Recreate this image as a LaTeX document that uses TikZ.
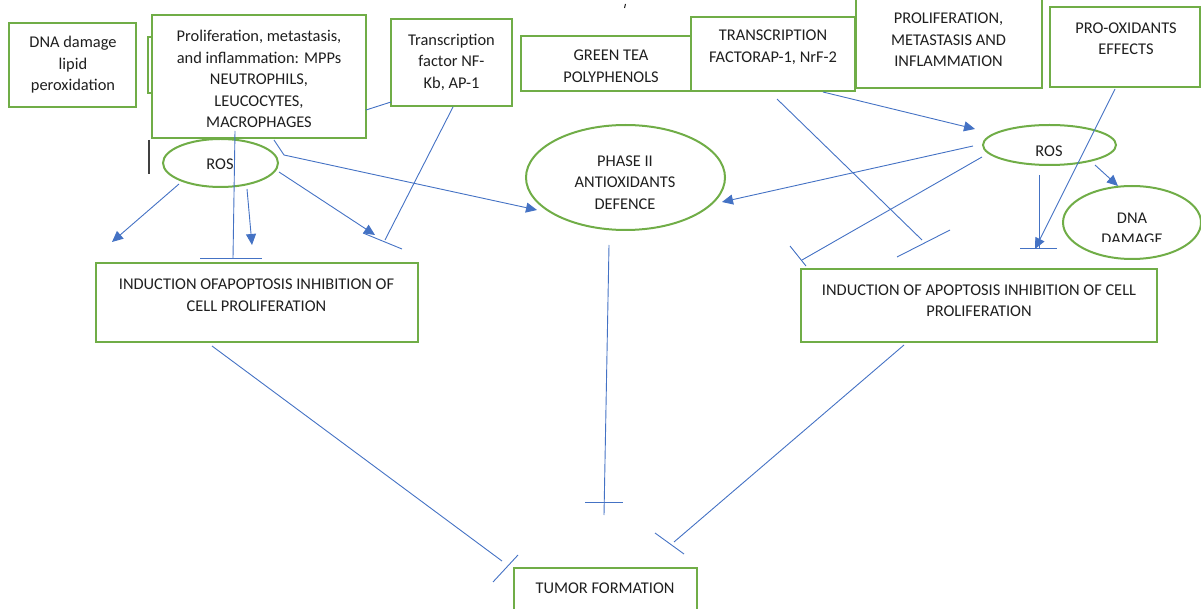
\documentclass[tikz,border=0pt]{standalone}
\usepackage{fontspec}
\setmainfont{Carlito}
\usetikzlibrary{arrows.meta,shapes.geometric}
\definecolor{grn}{HTML}{70AD47}
\definecolor{blu}{HTML}{4472C4}
\definecolor{txtc}{HTML}{1F1F1F}
\begin{document}
\begin{tikzpicture}[x=1pt,y=-1pt,
  gbox/.style={draw=grn,line width=2pt,fill=white,inner sep=0pt,rectangle},
  gell/.style={draw=grn,line width=2pt,inner sep=0pt,ellipse},
  txt/.style={font=\fontsize{16.4}{21.5}\selectfont,text=txtc,align=center,inner sep=0pt},
  conn/.style={draw=blu,line width=0.9pt},
  arr/.style={conn,-{Triangle[length=11pt,width=10pt]}},
  tbar/.style={draw=blu,line width=0.9pt}]
\useasboundingbox (0,0) rectangle (1201,609);
\clip (0,0) rectangle (1201,609);

% boxes
\node[gbox,minimum width=62pt,minimum height=56pt] (hid) at (179,65) {};
\node[gbox,minimum width=127pt,minimum height=84pt] (dna) at (72.5,65) {};
\node[gbox,minimum width=214pt,minimum height=123pt] (prolL) at (259,76.5) {};
\node[gbox,minimum width=121pt,minimum height=87pt] (nfkb) at (451.5,62.5) {};
\node[gbox,minimum width=179pt,minimum height=55pt] (gtea) at (610.5,63.5) {};
\node[gbox,minimum width=164pt,minimum height=74pt] (ap1) at (773,54) {};
\node[gbox,minimum width=186pt,minimum height=98pt] (prolR) at (949,39) {};
\node[gbox,minimum width=150pt,minimum height=80pt] (prox) at (1125,47) {};
\node[gbox,minimum width=322pt,minimum height=79pt] (indL) at (257,302.5) {};
\node[gbox,minimum width=356pt,minimum height=73pt] (indR) at (979,305.5) {};
\node[gbox,minimum width=183pt,minimum height=62pt] (tumor) at (605.5,599) {};

% ellipses
\node[gell,minimum width=115pt,minimum height=48pt] (rosL) at (220.5,163) {};
\node[gell,minimum width=133pt,minimum height=40pt] (rosR) at (1049.5,145) {};
\node[gell,minimum width=199pt,minimum height=105pt] (phase) at (625.5,177.5) {};
\node[gell,minimum width=138pt,minimum height=73pt] (dnad) at (1132,222.5) {};

% texts
\node[txt] (dnat) at (73,65) {DNA damage\\lipid\\peroxidation};
\node[txt] (prolLt) at (259,79) {Proliferation, metastasis,\\and inflammation: MPPs\\NEUTROPHILS,\\LEUCOCYTES,\\MACROPHAGES};
\node[txt] (nfkbt) at (451.5,62) {Transcription\\factor NF-\\Kb, AP-1};
\node[txt] (gteat) at (611,66) {GREEN TEA\\POLYPHENOLS};
\node[txt] (ap1t) at (773,47) {TRANSCRIPTION\\FACTORAP-1, NrF-2};
\node[txt] (prolRt) at (948.5,40) {PROLIFERATION,\\METASTASIS AND\\INFLAMMATION};
\node[txt] (proxt) at (1126,38.5) {PRO-OXIDANTS\\EFFECTS};
\node[txt] (indLt) at (256.5,295) {INDUCTION OFAPOPTOSIS INHIBITION OF\\CELL PROLIFERATION};
\node[txt] (indRt) at (979,300.5) {INDUCTION OF APOPTOSIS INHIBITION OF CELL\\PROLIFERATION};
\node[txt] (tumort) at (605,588) {TUMOR FORMATION};
\node[txt] (rosLt) at (220,164) {ROS};
\node[txt] (rosRt) at (1049,151) {ROS};
\node[txt] (phaset) at (625,182.5) {PHASE II\\ANTIOXIDANTS\\DEFENCE};
\begin{scope}
\clip (1060,180) rectangle (1201,241.5);
\node[txt] (dnadt) at (1132,229) {DNA\\DAMAGE};
\end{scope}

% stray marks
\draw[txtc,line width=1pt] (625.5,4) -- (624.5,8);
\draw[black!75,line width=1.2pt] (149,140) -- (149,174);

% connector end points
\coordinate (a1) at (366,110); \coordinate (b1) at (391,102);
\coordinate (a2) at (274,140); \coordinate (k2) at (284,155); \coordinate (b2) at (537,210);
\coordinate (a3) at (179,184); \coordinate (b3) at (112,242);
\coordinate (a4) at (247,189); \coordinate (b4) at (252,245);
\coordinate (a5) at (235,131); \coordinate (b5) at (233,258);
\coordinate (a6) at (279,172); \coordinate (b6) at (375,235);
\coordinate (a7) at (453,107); \coordinate (b7) at (385,240);
\coordinate (a8) at (609,245); \coordinate (b8) at (604,515);
\coordinate (a9) at (212,346); \coordinate (b9) at (502,561);
\coordinate (a10) at (904,345); \coordinate (b10) at (674,542);
\coordinate (a11) at (823,92); \coordinate (b11) at (975,129);
\coordinate (a12) at (973,146); \coordinate (b12) at (722,202);
\coordinate (a13) at (982,157); \coordinate (b13) at (802,260);
\coordinate (a14) at (777,99); \coordinate (b14) at (922,240);
\coordinate (a15) at (1039,175); \coordinate (b15) at (1039,248);
\coordinate (a16) at (1115,89); \coordinate (b16) at (1035,249);
\coordinate (a17) at (1095,165); \coordinate (b17) at (1118,186);

% connectors
\draw[conn] (a1) -- (b1);
\draw[arr] (a2) -- (k2) -- (b2);
\draw[arr] (a3) -- (b3);
\draw[arr] (a4) -- (b4);
\draw[conn] (a5) -- (b5);
\draw[tbar] (200,258) -- (262,258);
\draw[arr] (a6) -- (b6);
\draw[conn] (a7) -- (b7);
\draw[tbar] (363,233) -- (402,249);
\draw[conn] (a8) -- (b8);
\draw[tbar] (585,502) -- (623,502);
\draw[conn] (a9) -- (b9);
\draw[tbar] (493,582) -- (518,555);
\draw[conn] (a10) -- (b10);
\draw[tbar] (655,533) -- (684,554);
\draw[arr] (a11) -- (b11);
\draw[arr] (a12) -- (b12);
\draw[conn] (a13) -- (b13);
\draw[tbar] (790,246) -- (806,266);
\draw[conn] (a14) -- (b14);
\draw[tbar] (897,257) -- (950,230);
\draw[conn] (a15) -- (b15);
\draw[tbar] (1020,248) -- (1057,248);
\draw[arr] (a16) -- (b16);
\draw[arr] (a17) -- (b17);
\end{tikzpicture}
\end{document}
